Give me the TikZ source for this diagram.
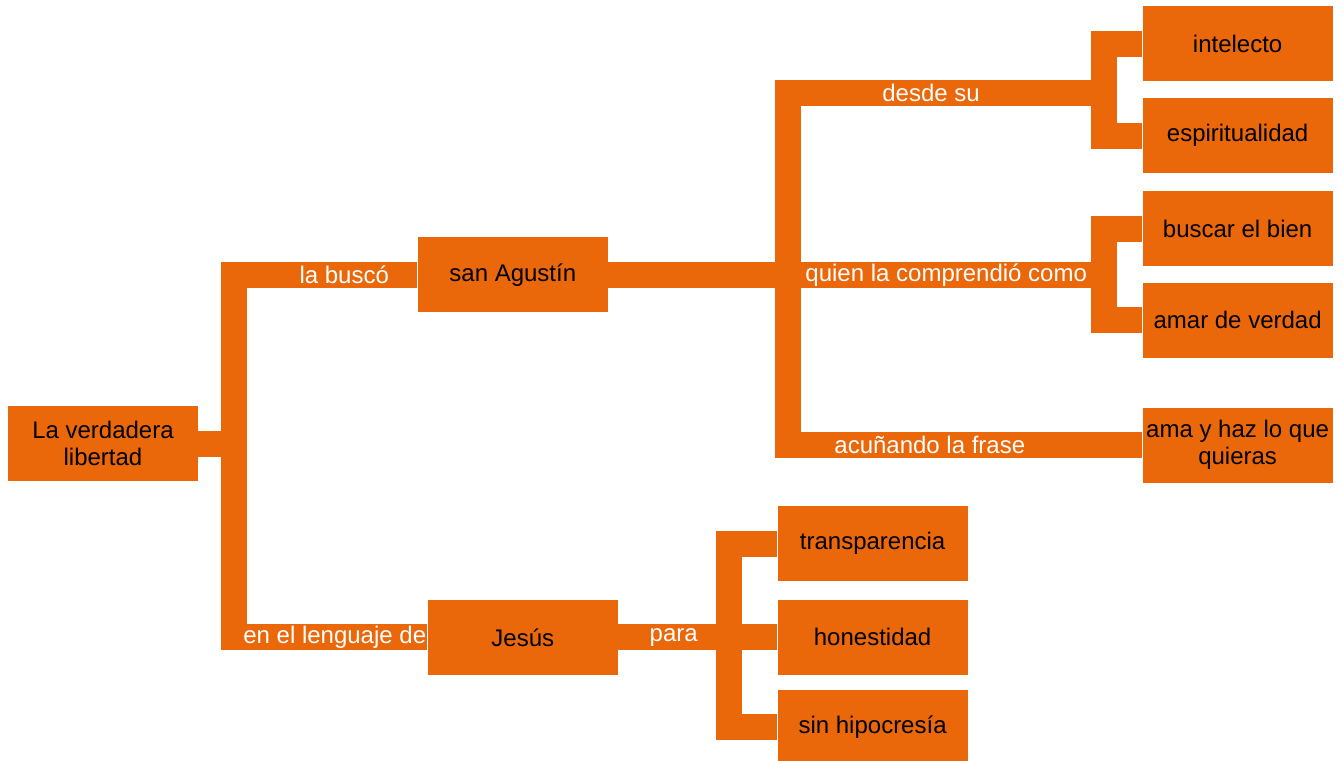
\documentclass[tikz,border=0pt]{standalone}
\usepackage{fontspec}
\setmainfont{Liberation Sans}
\usetikzlibrary{positioning,calc}
\definecolor{naranja}{RGB}{234,103,10}
\tikzset{
  caja/.style={fill=naranja,minimum width=95pt,minimum height=37.5pt,inner sep=1pt,align=center,
               font=\fontsize{12pt}{13.5pt}\selectfont},
  barra/.style={draw=naranja,line width=13pt,line join=miter},
  rotulo/.style={font=\fontsize{12pt}{13.5pt}\selectfont,text=white,inner sep=1pt},
}
\begin{document}
\begin{tikzpicture}
  \useasboundingbox (0,0) rectangle (671pt,-380pt);
  % cajas
  \node[caja] (raiz) at (51.5pt,-221.75pt) {La verdadera\\libertad};
  \node[caja,above right=46.5pt and 109.5pt of raiz] (agustin) {san Agustín};
  \node[caja,below right=59pt and 114.5pt of raiz] (jesus) {Jesús};
  \node[caja,above right=77.5pt and 267pt of agustin] (intelecto) {intelecto};
  \node[caja,below=8pt of intelecto] (espiritu) {espiritualidad};
  \node[caja,below=8.5pt of espiritu] (bien) {buscar el bien};
  \node[caja,below=8pt of bien] (amar) {amar de verdad};
  \node[caja,below=24.5pt of amar] (frase) {ama y haz lo que\\quieras};
  \node[caja,right=79.5pt of jesus] (honest) {honestidad};
  \node[caja,above=9pt of honest] (transp) {transparencia};
  \node[caja,below=7pt of honest] (hipoc) {sin hipocresía};
  % uniones
  \coordinate (u3) at ($(intelecto.west)!0.5!(espiritu.west)+(-19pt,-1.5pt)$);
  \coordinate (u4) at ($(bien.west)!0.5!(amar.west)+(-19pt,0)$);
  % conectores
  \draw[barra] (raiz.east) -- ++(18pt,0) coordinate (u1);
  \draw[barra] (u1) |- node[rotulo,pos=0.8] {la buscó} (agustin.west);
  \draw[barra] (u1) |- node[rotulo,pos=0.76] {en el lenguaje de} (jesus.west);
  \draw[barra] (agustin.east) -- ++(90pt,0) coordinate (u2);
  \draw[barra] (u2) |- node[rotulo,pos=0.726] {desde su} (u3);
  \draw[barra] (u2) -- node[rotulo] {quien la comprendió como} (u2 -| u4);
  \draw[barra] (u2) |- node[rotulo,pos=0.7] {acuñando la frase} (frase.west);
  \draw[barra] (u3) |- (intelecto.west);
  \draw[barra] (u3) |- (espiritu.west);
  \draw[barra] (u4) |- (bien.west);
  \draw[barra] (u4) |- (amar.west);
  \draw[barra] (jesus.east) -- node[rotulo] {para} ++(55.5pt,0) coordinate (u5);
  \draw[barra] (u5) |- (transp.west);
  \draw[barra] (u5) -- (honest.west);
  \draw[barra] (u5) |- (hipoc.west);
\end{tikzpicture}
\end{document}
